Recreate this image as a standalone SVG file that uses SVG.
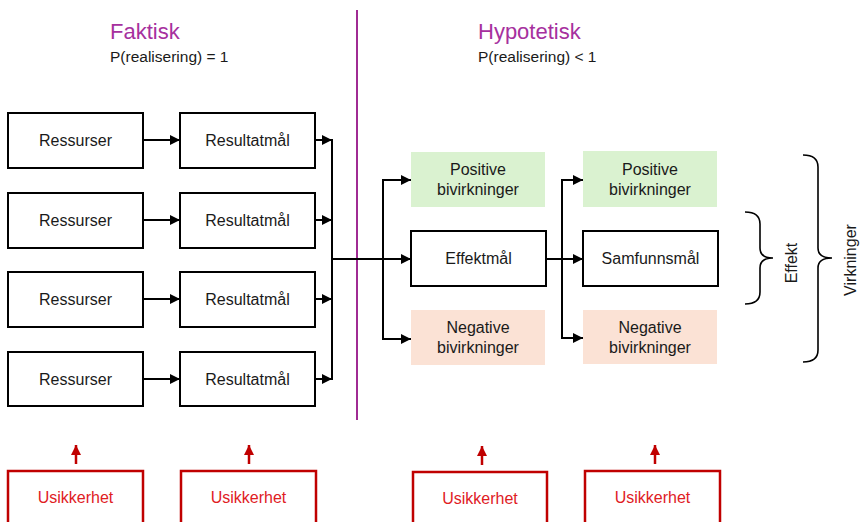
<svg xmlns="http://www.w3.org/2000/svg" width="860" height="522" viewBox="0 0 860 522">
<defs>
<style>
text{font-family:"Liberation Sans",Arial,sans-serif;fill:#1a1a1a}
.lbl{font-size:16px;text-anchor:middle}
.box{fill:#fff;stroke:#000;stroke-width:2}
.pos{fill:#DAF2D0;stroke:none}
.neg{fill:#FBE2D5;stroke:none}
.unc{fill:#fff;stroke:#C00000;stroke-width:2.5}
.unct{fill:#E0201F;font-size:16px;text-anchor:middle}
.title{fill:#A6309E;font-size:22px}
.sub{font-size:15.5px}
.con{fill:none;stroke:#000;stroke-width:2}
.arr{marker-end:url(#ah)}
.red{fill:none;stroke:#C00000;stroke-width:2.5;marker-end:url(#rh)}
.brace{fill:none;stroke:#000;stroke-width:1.6}
</style>
<marker id="ah" viewBox="0 0 10 10" refX="10" refY="5" markerWidth="10" markerHeight="10" markerUnits="userSpaceOnUse" orient="auto">
<path d="M0,0 L10,5 L0,10 Z" fill="#000"/>
</marker>
<marker id="rh" viewBox="0 0 10 10" refX="10" refY="5" markerWidth="10" markerHeight="10" markerUnits="userSpaceOnUse" orient="auto">
<path d="M0,0 L10,5 L0,10 Z" fill="#C00000"/>
</marker>
</defs>
<rect width="860" height="522" fill="#fff"/>

<g id="headers">
<text class="title" x="110" y="39">Faktisk</text>
<text class="sub" x="110" y="62">P(realisering) = 1</text>
<text class="title" x="478" y="39">Hypotetisk</text>
<text class="sub" x="478" y="62">P(realisering) &lt; 1</text>
<line x1="357" y1="10" x2="357" y2="420" stroke="#A02B93" stroke-width="2"/>
</g>

<g id="res1"><rect class="box" x="8" y="113" width="135" height="55"/><text class="lbl" x="75.5" y="146">Ressurser</text></g>
<g id="res2"><rect class="box" x="8" y="193" width="135" height="55"/><text class="lbl" x="75.5" y="226">Ressurser</text></g>
<g id="res3"><rect class="box" x="8" y="272" width="135" height="55"/><text class="lbl" x="75.5" y="305">Ressurser</text></g>
<g id="res4"><rect class="box" x="8" y="352" width="135" height="54"/><text class="lbl" x="75.5" y="385">Ressurser</text></g>

<g id="rm1"><rect class="box" x="180" y="113" width="135" height="55"/><text class="lbl" x="247.5" y="146">Resultatmål</text></g>
<g id="rm2"><rect class="box" x="180" y="193" width="135" height="55"/><text class="lbl" x="247.5" y="226">Resultatmål</text></g>
<g id="rm3"><rect class="box" x="180" y="272" width="135" height="55"/><text class="lbl" x="247.5" y="305">Resultatmål</text></g>
<g id="rm4"><rect class="box" x="180" y="352" width="135" height="54"/><text class="lbl" x="247.5" y="385">Resultatmål</text></g>

<g id="pos1"><rect class="pos" x="411" y="152" width="134" height="55"/><text class="lbl" x="478" y="175">Positive</text><text class="lbl" x="478" y="195">bivirkninger</text></g>
<g id="effektmal"><rect class="box" x="411" y="231" width="135" height="55"/><text class="lbl" x="478.5" y="264">Effektmål</text></g>
<g id="neg1"><rect class="neg" x="411" y="310" width="134" height="55"/><text class="lbl" x="478" y="333">Negative</text><text class="lbl" x="478" y="353">bivirkninger</text></g>

<g id="pos2"><rect class="pos" x="583" y="151" width="134" height="56"/><text class="lbl" x="650" y="175">Positive</text><text class="lbl" x="650" y="195">bivirkninger</text></g>
<g id="samfunnsmal"><rect class="box" x="583" y="231" width="135" height="55"/><text class="lbl" x="650.5" y="264">Samfunnsmål</text></g>
<g id="neg2"><rect class="neg" x="583" y="310" width="134" height="54"/><text class="lbl" x="650" y="333">Negative</text><text class="lbl" x="650" y="353">bivirkninger</text></g>

<g id="effekt-brace">
<path class="brace" d="M745,212 Q760,212 760,224 L760,248 Q760,258 773,258 Q760,258 760,268 L760,292 Q760,304 745,304"/>
<text transform="translate(797,263) rotate(-90)" style="font-size:16px;text-anchor:middle">Effekt</text>
</g>
<g id="virkninger-brace">
<path class="brace" d="M803,155 Q818,155 818,167 L818,248 Q818,258 832,258 Q818,258 818,268 L818,350 Q818,362 803,362"/>
<text transform="translate(856,260) rotate(-90)" style="font-size:16px;text-anchor:middle">Virkninger</text>
</g>

<g id="unc1"><rect class="unc" x="8" y="471" width="135" height="60"/><text class="unct" x="75.5" y="503">Usikkerhet</text></g>
<g id="unc2"><rect class="unc" x="181" y="471" width="135" height="60"/><text class="unct" x="248.5" y="503">Usikkerhet</text></g>
<g id="unc3"><rect class="unc" x="413" y="472" width="134" height="60"/><text class="unct" x="480" y="504">Usikkerhet</text></g>
<g id="unc4"><rect class="unc" x="585" y="471" width="135" height="60"/><text class="unct" x="652.5" y="503">Usikkerhet</text></g>

<g id="connectors">
<line class="con arr" x1="143" y1="140" x2="180" y2="140"/>
<line class="con arr" x1="143" y1="220" x2="180" y2="220"/>
<line class="con arr" x1="143" y1="299" x2="180" y2="299"/>
<line class="con arr" x1="143" y1="379" x2="180" y2="379"/>
<line class="con arr" x1="315" y1="140" x2="332" y2="140"/>
<line class="con arr" x1="315" y1="220" x2="332" y2="220"/>
<line class="con arr" x1="315" y1="299" x2="332" y2="299"/>
<line class="con arr" x1="315" y1="379" x2="332" y2="379"/>
<line class="con" x1="332" y1="139" x2="332" y2="380"/>
<line class="con arr" x1="332" y1="259" x2="411" y2="259"/>
<path class="con arr" d="M383,259 L383,180 L411,180"/>
<path class="con arr" d="M383,259 L383,339 L411,339"/>
<line class="con arr" x1="546" y1="259" x2="583" y2="259"/>
<path class="con arr" d="M562,259 L562,180 L583,180"/>
<path class="con arr" d="M562,259 L562,338 L583,338"/>
<line class="red" x1="76" y1="464" x2="76" y2="445"/>
<line class="red" x1="249" y1="464" x2="249" y2="445"/>
<line class="red" x1="482" y1="465" x2="482" y2="446"/>
<line class="red" x1="655" y1="464" x2="655" y2="445"/>
</g>
</svg>
